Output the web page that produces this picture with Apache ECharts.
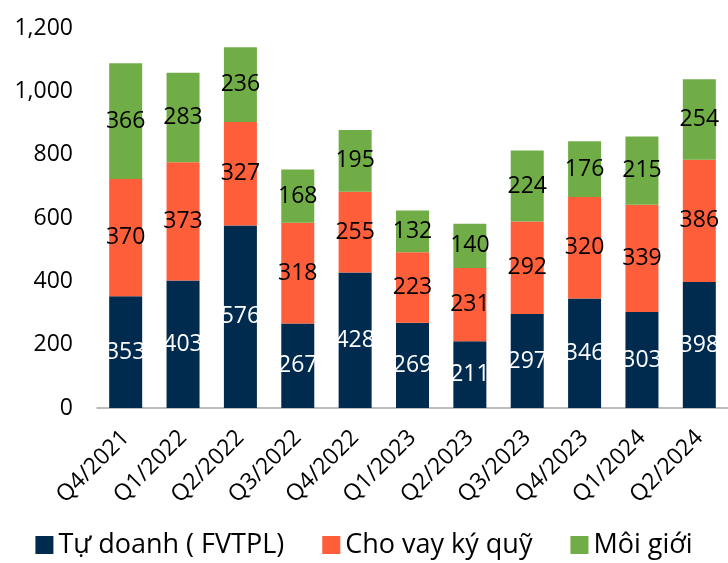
<!DOCTYPE html>
<html>
<head>
<meta charset="utf-8">
<script src="https://cdn.jsdelivr.net/npm/echarts@6/dist/echarts.min.js"></script>
<style>
    html, body { margin: 0; padding: 0; background: #fff; }
    #chart { width: 728px; height: 563px; }
</style>
</head>
<body>
<div id="chart"></div>
<script>
var quarters = ['Q4/2021', 'Q1/2022', 'Q2/2022', 'Q3/2022', 'Q4/2022', 'Q1/2023', 'Q2/2023', 'Q3/2023', 'Q4/2023', 'Q1/2024', 'Q2/2024'];
var tuDoanh = [353, 403, 576, 267, 428, 269, 211, 297, 346, 303, 398];
var choVay = [370, 373, 327, 318, 255, 223, 231, 292, 320, 339, 386];
var moiGioi = [366, 283, 236, 168, 195, 132, 140, 224, 176, 215, 254];

var myChart = echarts.init(document.getElementById('chart'));
var font = 'Open Sans';

function seg(name, data, color, labelColor) {
    return {
        name: name,
        type: 'bar',
        stack: 'total',
        barWidth: 33,
        data: data,
        itemStyle: { color: color },
        label: {
            show: true,
            position: 'inside',
            color: labelColor,
            fontFamily: font,
            fontSize: 23
        }
    };
}

var option = {
    animation: false,
    grid: { left: 97, right: -7, top: 28, bottom: 155 },
    legend: {
        top: 529,
        left: 'center',
        padding: 0,
        itemWidth: 18,
        itemHeight: 18,
        itemGap: 38,
        icon: 'rect',
        textStyle: { fontFamily: font, fontSize: 27, lineHeight: 32, color: '#000' },
        data: ['Tự doanh ( FVTPL)', 'Cho vay ký quỹ', 'Môi giới']
    },
    xAxis: {
        type: 'category',
        data: quarters,
        axisLine: { lineStyle: { color: '#a6a6a6', width: 1.5 } },
        axisTick: { show: false },
        axisLabel: {
            rotate: 45,
            interval: 0,
            margin: 26,
            color: '#000',
            fontFamily: font,
            fontSize: 23
        }
    },
    yAxis: {
        type: 'value',
        min: 0,
        max: 1200,
        interval: 200,
        splitLine: { show: false },
        axisLine: { show: false },
        axisLabel: {
            margin: 24,
            color: '#000',
            fontFamily: font,
            fontSize: 23,
            formatter: function (v) { return v.toLocaleString('en-US'); }
        }
    },
    series: [
        seg('Tự doanh ( FVTPL)', tuDoanh, '#002b4e', '#fff'),
        seg('Cho vay ký quỹ', choVay, '#ff5e3a', '#000'),
        seg('Môi giới', moiGioi, '#70ad47', '#000')
    ]
};

myChart.setOption(option);
window.addEventListener('resize', function () {
    myChart.resize();
});
</script>
</body>
</html>
